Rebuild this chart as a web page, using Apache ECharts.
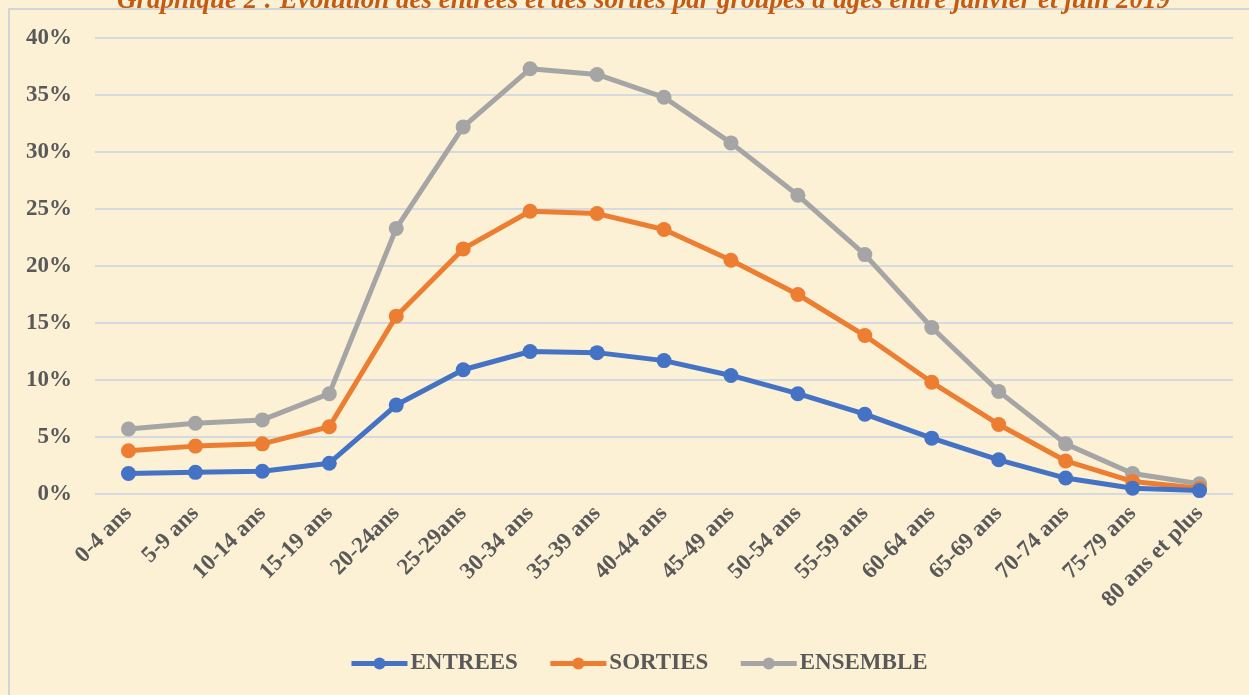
<!DOCTYPE html>
<html>
<head>
<meta charset="utf-8">
<title>Graphique 2</title>
<script src="https://cdn.jsdelivr.net/npm/echarts@6/dist/echarts.min.js"></script>
<style>
  html, body { margin: 0; padding: 0; background: #fcf0d5; }
  #chart { width: 1249px; height: 695px; }
</style>
</head>
<body>
<div id="chart"></div>
<script>
// Age groups (x axis)
const ageGroups = ['0-4 ans', '5-9 ans', '10-14 ans', '15-19 ans', '20-24ans', '25-29ans',
  '30-34 ans', '35-39 ans', '40-44 ans', '45-49 ans', '50-54 ans', '55-59 ans',
  '60-64 ans', '65-69 ans', '70-74 ans', '75-79 ans', '80 ans et plus'];

// Shares in percent
const entrees = [1.8, 1.9, 2.0, 2.7, 7.8, 10.9, 12.5, 12.4, 11.7, 10.4, 8.8, 7.0, 4.9, 3.0, 1.4, 0.5, 0.3];
const sorties = [3.8, 4.2, 4.4, 5.9, 15.6, 21.5, 24.8, 24.6, 23.2, 20.5, 17.5, 13.9, 9.8, 6.1, 2.9, 1.1, 0.5];
const ensemble = [5.7, 6.2, 6.5, 8.8, 23.3, 32.2, 37.3, 36.8, 34.8, 30.8, 26.2, 21.0, 14.6, 9.0, 4.4, 1.8, 0.9];

const seriesNames = ['ENTREES', 'SORTIES', 'ENSEMBLE'];
const seriesColors = ['#4472c4', '#ed7d31', '#a5a5a5'];

const chart = echarts.init(document.getElementById('chart'));

const labelFont = {
  color: '#595959',
  fontFamily: 'Liberation Serif',
  fontWeight: 'bold',
  fontSize: 23
};

const option = {
  backgroundColor: '#fcf0d5',
  title: {
    text: "Graphique 2 : Evolution des entrées et des sorties par groupes d'âges entre janvier et juin 2019",
    left: 112,
    top: -17,
    textStyle: {
      color: '#c55a11',
      fontFamily: 'Liberation Serif',
      fontStyle: 'italic',
      fontWeight: 'bold',
      fontSize: 27
    }
  },
  graphic: [{
    type: 'rect',
    shape: { x: 9, y: 9, width: 1250, height: 700 },
    style: { fill: 'none', stroke: '#d4d4d4', lineWidth: 2 },
    silent: true,
    z: -1
  }],
  grid: { left: 95, right: 16, top: 38, bottom: 201 },
  legend: {
    data: seriesNames,
    bottom: 15,
    left: 344,
    itemWidth: 56,
    itemHeight: 15,
    itemGap: 30,
    lineStyle: { width: 5 },
    textStyle: Object.assign({}, labelFont, { padding: [0, 0, 0, -2] })
  },
  xAxis: {
    type: 'category',
    data: ageGroups,
    axisLine: { show: false },
    axisTick: { show: false },
    axisLabel: Object.assign({ rotate: 45, margin: 16, interval: 0 }, labelFont)
  },
  yAxis: {
    type: 'value',
    min: 0,
    max: 40,
    interval: 5,
    axisLine: { show: false },
    axisTick: { show: false },
    splitLine: { lineStyle: { color: '#d5d9e0', width: 2 } },
    axisLabel: Object.assign({ formatter: '{value}%', margin: 23 }, labelFont)
  },
  series: [entrees, sorties, ensemble].map((data, idx) => ({
    name: seriesNames[idx],
    type: 'line',
    data: data,
    symbol: 'circle',
    symbolSize: 15,
    lineStyle: { width: 5, color: seriesColors[idx] },
    itemStyle: { color: seriesColors[idx] },
    z: 2 + (2 - idx)
  }))
};

chart.setOption(option);
</script>
</body>
</html>
